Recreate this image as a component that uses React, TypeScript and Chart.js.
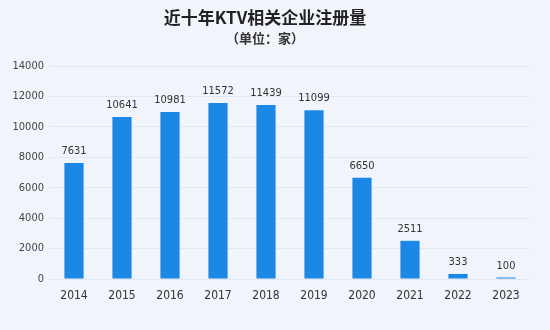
import React, { useEffect, useRef } from "react";
import { Chart, registerables } from "chart.js";

Chart.register(...registerables);

const years = ["2014", "2015", "2016", "2017", "2018", "2019", "2020", "2021", "2022", "2023"];
const registrations = [7631, 10641, 10981, 11572, 11439, 11099, 6650, 2511, 333, 100];
const yTicks = [0, 2000, 4000, 6000, 8000, 10000, 12000, 14000];

const FONT = "'DejaVu Sans Condensed', 'Noto Sans', sans-serif";

const valueLabels = {
  id: "valueLabels",
  afterDatasetsDraw(chart: any) {
    const ctx = chart.ctx;
    const meta = chart.getDatasetMeta(0);
    ctx.save();
    ctx.font = `11px ${FONT}`;
    ctx.fillStyle = "#333333";
    ctx.textAlign = "center";
    ctx.textBaseline = "bottom";
    meta.data.forEach((bar: any, i: number) => {
      ctx.fillText(String(registrations[i]), bar.x, bar.y - 6);
    });
    ctx.restore();
  },
};

const bgPlugin = {
  id: "bg",
  beforeDraw(chart: any) {
    const ctx = chart.ctx;
    ctx.save();
    ctx.fillStyle = "#f1f5fb";
    ctx.fillRect(0, 0, chart.width, chart.height);
    ctx.restore();
  },
};

export default function App() {
  const ref = useRef<HTMLCanvasElement>(null);
  useEffect(() => {
    document.body.style.margin = "0";
    const chart = new Chart(ref.current!, {
      type: "bar",
      data: {
        labels: years,
        datasets: [
          {
            data: registrations,
            backgroundColor: "#1c88e6",
            barPercentage: 0.8,
            categoryPercentage: 0.5,
          },
        ],
      },
      plugins: [bgPlugin, valueLabels],
      options: {
        animation: false,
        responsive: false,
        layout: { padding: { left: 0, right: 20, top: 0, bottom: 21 } },
        plugins: {
          legend: { display: false },
          tooltip: { enabled: false },
          title: {
            display: true,
            text: "近十年KTV相关企业注册量",
            color: "#222222",
            font: { size: 17, weight: "bold", family: "'Noto Sans CJK SC', sans-serif" },
            padding: { top: 7, bottom: 0 },
          },
          subtitle: {
            display: true,
            text: "（单位：家）",
            color: "#333333",
            font: { size: 13, weight: "bold", family: "'Noto Sans CJK SC', sans-serif" },
            padding: { top: 3, bottom: 20 },
          },
        },
        scales: {
          x: {
            grid: { display: false, drawTicks: false },
            border: { display: false },
            ticks: { color: "#333333", font: { size: 12, family: FONT }, padding: 10 },
            afterFit: (s: any) => {
              s.height = 30;
            },
          },
          y: {
            min: 0,
            max: 14000,
            afterBuildTicks: (s: any) => {
              s.ticks = yTicks.map((v) => ({ value: v }));
            },
            grid: { color: "#e2e7ee", drawTicks: false },
            border: { display: false },
            ticks: {
              color: "#444444",
              font: { size: 11, family: FONT },
              padding: 6,
              callback: (v: any) => String(v),
            },
            afterFit: (s: any) => {
              s.width = 50;
            },
          },
        },
      },
    });
    return () => chart.destroy();
  }, []);
  return (
    <div style={{ width: 550, height: 330 }}>
      <canvas ref={ref} width={550} height={330} />
    </div>
  );
}
